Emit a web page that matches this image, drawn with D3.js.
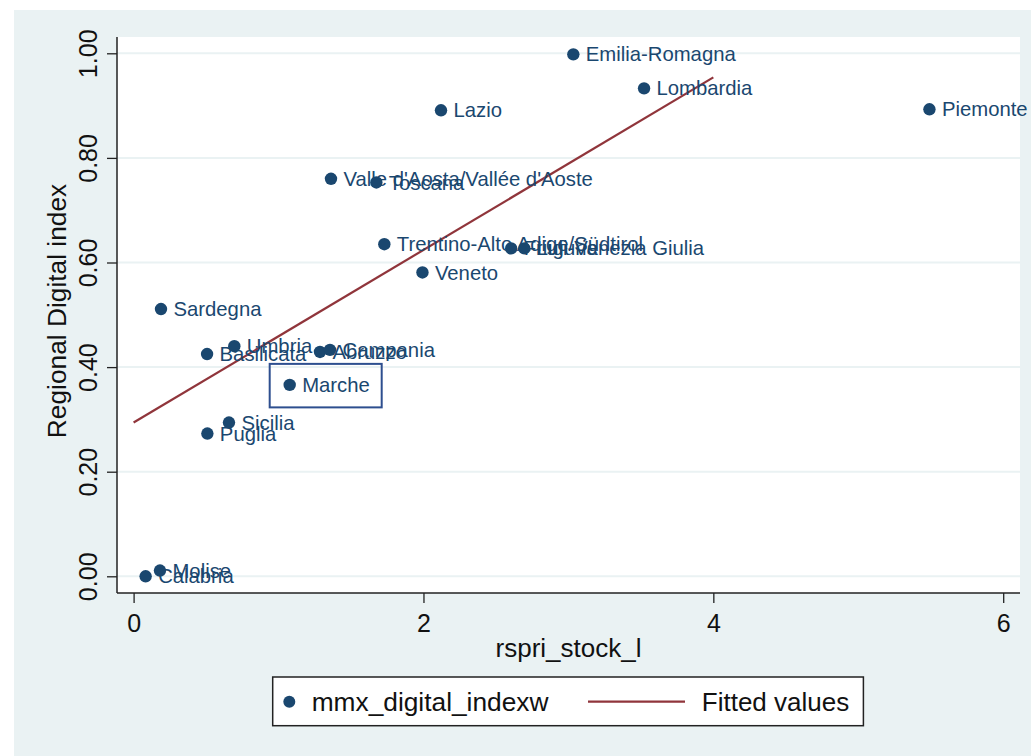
<!DOCTYPE html>
<html>
<head>
<meta charset="utf-8">
<script src="https://cdn.jsdelivr.net/npm/d3@7"></script>
<style>
  html, body { margin: 0; padding: 0; background: #ffffff; }
  svg { display: block; font-family: "Liberation Sans", Arial, sans-serif; }
</style>
</head>
<body>
<svg id="chart" width="1031" height="756"></svg>
<script>
// ---- data ----
const regions = ["Emilia-Romagna", "Lombardia", "Piemonte", "Lazio", "Valle d'Aosta/Vallée d'Aoste",
  "Toscana", "Trentino-Alto Adige/Südtirol", "Friuli-Venezia Giulia", "Liguria", "Veneto",
  "Sardegna", "Umbria", "Basilicata", "Abruzzo", "Campania", "Marche", "Sicilia", "Puglia",
  "Molise", "Calabria"];
const rspriStock = [3.034, 3.522, 5.491, 2.121, 1.362, 1.675, 1.730, 2.605, 2.696, 1.993,
  0.189, 0.695, 0.507, 1.286, 1.355, 1.077, 0.658, 0.509, 0.182, 0.083];
const digitalIndex = [0.998, 0.933, 0.893, 0.891, 0.760, 0.753, 0.635, 0.627, 0.627, 0.581,
  0.511, 0.440, 0.425, 0.429, 0.433, 0.366, 0.294, 0.273, 0.011, 0.000];
const fitX = [0, 4];
const fitY = [0.294, 0.954];
const xTicks = [0, 2, 4, 6];
const yTicks = [0, 0.2, 0.4, 0.6, 0.8, 1.0];
const highlighted = ["Marche"];
const xTitle = "rspri_stock_l";
const yTitle = "Regional Digital index";
const legendLabels = ["mmx_digital_indexw", "Fitted values"];

// ---- styles ----
const navy = "#1A476F", maroon = "#90353B", bg = "#EAF2F3";
const svg = d3.select("#chart");

const plot = { left: 117, right: 1020, top: 37, bottom: 593 };
const x = d3.scaleLinear().domain([0, 6]).range([133.6, 1003.2]);
const y = d3.scaleLinear().domain([0, 1]).range([576.3, 53.3]);

// outer background
svg.append("rect").attr("x", 14).attr("y", 10).attr("width", 1031 - 14).attr("height", 756 - 10).attr("fill", bg);
// plot region
svg.append("rect").attr("x", plot.left).attr("y", plot.top)
  .attr("width", plot.right - plot.left).attr("height", plot.bottom - plot.top).attr("fill", "#ffffff");

// gridlines
svg.append("g").selectAll("line").data(yTicks).join("line")
  .attr("x1", plot.left).attr("x2", plot.right)
  .attr("y1", d => y(d)).attr("y2", d => y(d))
  .attr("stroke", bg).attr("stroke-width", 2);

// y axis
const yAxis = svg.append("g").attr("transform", `translate(${plot.left},0)`)
  .call(d3.axisLeft(y).tickValues(yTicks).tickFormat(d3.format(".2f")).tickSize(10).tickSizeOuter(0));
yAxis.select(".domain").remove();
yAxis.append("line").attr("x1", 0).attr("x2", 0).attr("y1", plot.top).attr("y2", plot.bottom)
  .attr("stroke", "#222").attr("stroke-width", 1.5);
yAxis.selectAll(".tick line").attr("stroke", "#222").attr("stroke-width", 1.3);
yAxis.selectAll(".tick text")
  .attr("font-size", 25).attr("fill", "#111").attr("font-family", "'Liberation Sans', Arial, sans-serif")
  .attr("x", null).attr("dy", null)
  .attr("text-anchor", "middle")
  .attr("transform", "translate(-20,0) rotate(-90)");

// x axis
const xAxis = svg.append("g").attr("transform", `translate(0,${plot.bottom})`)
  .call(d3.axisBottom(x).tickValues(xTicks).tickFormat(d3.format("d")).tickSize(10).tickSizeOuter(0));
xAxis.select(".domain").remove();
xAxis.append("line").attr("x1", plot.left).attr("x2", plot.right).attr("y1", 0).attr("y2", 0)
  .attr("stroke", "#222").attr("stroke-width", 1.5);
xAxis.selectAll(".tick line").attr("stroke", "#222").attr("stroke-width", 1.3);
xAxis.selectAll(".tick text")
  .attr("font-size", 25).attr("fill", "#111").attr("font-family", "'Liberation Sans', Arial, sans-serif")
  .attr("dy", null).attr("y", 38.5);

// axis titles
svg.append("text").attr("x", (plot.left + plot.right) / 2).attr("y", 657)
  .attr("text-anchor", "middle").attr("font-size", 26).attr("fill", "#111").text(xTitle);
svg.append("text").attr("transform", `translate(66,${(plot.top + plot.bottom) / 2 - 4}) rotate(-90)`)
  .attr("text-anchor", "middle").attr("font-size", 26.3).attr("fill", "#111").text(yTitle);

// fitted line
const fitData = fitX.map((d, i) => [d, fitY[i]]);
svg.append("path").datum(fitData)
  .attr("d", d3.line().x(d => x(d[0])).y(d => y(d[1])))
  .attr("fill", "none").attr("stroke", maroon).attr("stroke-width", 2.2);

// points
const pts = regions.map((r, i) => ({ name: r, xv: rspriStock[i], yv: digitalIndex[i] }));
svg.append("g").selectAll("circle").data(pts).join("circle")
  .attr("cx", d => x(d.xv)).attr("cy", d => y(d.yv)).attr("r", 6.2).attr("fill", navy);

svg.append("g").selectAll("text").data(pts).join("text")
  .attr("x", d => x(d.xv) + 12.5).attr("y", d => y(d.yv)).attr("dy", "0.35em")
  .attr("font-size", 20.3).attr("fill", navy).text(d => d.name);

// highlight box around Marche
pts.filter(d => highlighted.includes(d.name)).forEach(d => {
  svg.append("rect")
    .attr("x", x(d.xv) - 20).attr("y", y(d.yv) - 21)
    .attr("width", 112).attr("height", 43.5)
    .attr("fill", "none").attr("stroke", "#2E4F8F").attr("stroke-width", 2);
});

// legend
const lg = svg.append("g");
lg.append("rect").attr("x", 272.7).attr("y", 677).attr("width", 590.7).attr("height", 48.7)
  .attr("fill", "#ffffff").attr("stroke", "#222").attr("stroke-width", 1.5);
lg.append("circle").attr("cx", 289.3).attr("cy", 701.7).attr("r", 6).attr("fill", navy);
lg.append("text").attr("x", 311.7).attr("y", 701.7).attr("dy", "0.35em")
  .attr("font-size", 26.3).attr("fill", "#111").text(legendLabels[0]);
lg.append("line").attr("x1", 588).attr("x2", 685).attr("y1", 701.7).attr("y2", 701.7)
  .attr("stroke", maroon).attr("stroke-width", 2.2);
lg.append("text").attr("x", 701.8).attr("y", 701.7).attr("dy", "0.35em")
  .attr("font-size", 26).attr("fill", "#111").text(legendLabels[1]);
</script>
</body>
</html>
